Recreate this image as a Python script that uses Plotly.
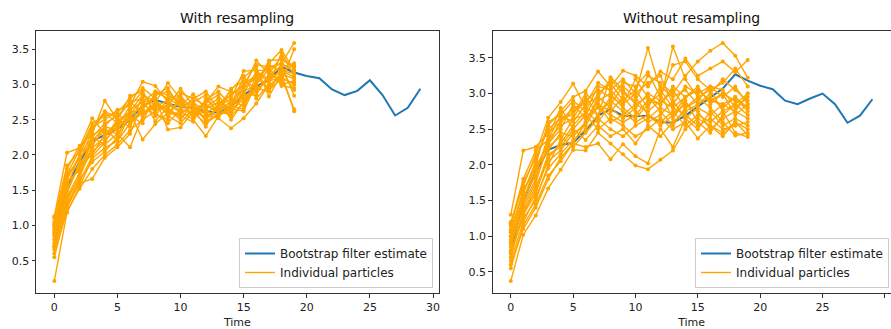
import plotly.graph_objects as go

# ---------------- data ----------------
time_est = list(range(30))
time_part = list(range(20))

estimate_with = [0.80, 1.55, 1.90, 2.20, 2.28, 2.37, 2.50, 2.70, 2.78, 2.73,
                 2.68, 2.67, 2.62, 2.60, 2.68, 2.85, 2.97, 3.07, 3.25, 3.17,
                 3.12, 3.09, 2.93, 2.85, 2.91, 3.06, 2.85, 2.56, 2.67, 2.94]

estimate_without = [0.80, 1.50, 1.90, 2.21, 2.28, 2.31, 2.48, 2.69, 2.78, 2.69,
                    2.68, 2.69, 2.60, 2.59, 2.69, 2.82, 2.95, 3.07, 3.27, 3.18,
                    3.11, 3.06, 2.90, 2.85, 2.93, 3.00, 2.85, 2.59, 2.69, 2.92]

particles_with = [
    [0.21, 1.18, 1.55, 1.95, 2.10, 2.20, 2.45, 2.60, 2.70, 2.65, 2.55, 2.60, 2.45, 2.58, 2.62, 2.80, 2.95, 3.05, 3.20, 3.10],
    [0.55, 1.25, 1.60, 1.66, 1.96, 2.11, 2.30, 2.75, 2.90, 2.80, 2.70, 2.75, 2.60, 2.70, 2.85, 3.00, 3.10, 3.25, 3.30, 3.59],
    [1.13, 2.03, 2.10, 2.52, 2.30, 2.45, 2.60, 2.22, 2.44, 2.60, 2.78, 2.55, 2.70, 2.62, 2.75, 2.95, 3.34, 3.15, 3.05, 3.50],
    [1.05, 1.80, 2.13, 2.30, 2.77, 2.50, 2.84, 2.90, 2.60, 2.45, 2.65, 2.80, 2.90, 2.65, 2.55, 2.75, 3.05, 3.30, 3.49, 3.20],
    [0.95, 1.65, 2.00, 2.40, 2.50, 2.64, 2.70, 3.04, 2.98, 2.75, 2.62, 2.50, 2.27, 2.55, 2.72, 3.10, 3.25, 2.83, 3.15, 2.62],
    [0.85, 1.50, 1.85, 2.15, 2.35, 2.30, 2.11, 2.55, 2.75, 3.02, 2.80, 2.68, 2.58, 2.52, 2.38, 2.52, 2.73, 3.00, 3.10, 2.65],
    [0.70, 1.40, 1.75, 2.05, 2.20, 2.40, 2.55, 2.70, 2.80, 2.36, 2.39, 2.62, 2.75, 2.97, 2.90, 2.85, 2.90, 3.10, 3.28, 2.84],
    [0.75, 1.35, 1.70, 2.25, 2.45, 2.55, 2.75, 2.80, 2.65, 2.70, 2.94, 2.70, 2.50, 2.68, 2.80, 3.19, 3.20, 3.20, 3.00, 3.05],
    [0.90, 1.70, 1.95, 2.20, 2.40, 2.35, 2.60, 2.65, 2.85, 2.90, 2.70, 2.86, 2.65, 2.75, 2.65, 2.90, 3.00, 3.34, 3.35, 3.25],
    [1.00, 1.60, 1.80, 2.10, 2.25, 2.50, 2.40, 2.85, 2.70, 2.60, 2.55, 2.47, 2.80, 2.60, 2.94, 3.05, 2.95, 2.90, 3.20, 3.15],
    [0.65, 1.30, 1.65, 1.90, 2.05, 2.25, 2.65, 2.75, 2.55, 2.80, 2.85, 2.60, 2.55, 2.65, 2.70, 2.65, 3.15, 3.05, 3.10, 3.00],
    [0.80, 1.45, 1.90, 2.35, 2.60, 2.45, 2.50, 2.60, 2.72, 2.65, 2.50, 2.75, 2.85, 2.58, 2.60, 2.85, 2.85, 3.15, 3.40, 3.22],
    [1.10, 1.85, 2.05, 2.45, 2.55, 2.60, 2.80, 2.95, 2.80, 2.55, 2.45, 2.65, 2.40, 2.72, 2.85, 3.00, 3.28, 3.25, 2.98, 2.95],
    [0.60, 1.20, 1.52, 1.80, 2.00, 2.15, 2.35, 2.50, 2.62, 2.72, 2.60, 2.70, 2.68, 2.80, 2.50, 2.75, 2.92, 3.12, 3.25, 3.30],
    [0.88, 1.55, 2.00, 2.25, 2.15, 2.30, 2.55, 2.45, 2.90, 2.85, 2.75, 2.55, 2.62, 2.55, 2.68, 2.95, 3.10, 2.95, 3.15, 3.08],
    [1.02, 1.75, 1.85, 2.00, 2.30, 2.40, 2.70, 2.90, 2.58, 2.50, 2.88, 2.80, 2.70, 2.62, 2.76, 2.70, 3.00, 3.22, 3.30, 3.18],
    [0.72, 1.38, 1.68, 2.12, 2.42, 2.58, 2.45, 2.65, 2.85, 2.95, 2.65, 2.58, 2.75, 2.85, 2.58, 2.88, 3.18, 3.08, 3.20, 2.92],
    [0.92, 1.62, 1.78, 2.28, 2.38, 2.20, 2.58, 2.78, 2.48, 2.68, 2.72, 2.64, 2.52, 2.70, 2.92, 3.12, 2.80, 3.00, 3.45, 3.12],
    [0.68, 1.28, 1.62, 1.98, 2.18, 2.48, 2.62, 2.85, 2.76, 2.62, 2.58, 2.72, 2.48, 2.56, 2.66, 2.62, 3.02, 3.28, 3.18, 3.28],
    [0.98, 1.72, 2.08, 2.38, 2.62, 2.52, 2.76, 2.58, 2.68, 2.78, 2.82, 2.52, 2.78, 2.90, 2.70, 3.02, 3.12, 2.92, 3.08, 3.02],
]

particles_without = [
    [0.37, 1.02, 1.29, 1.67, 1.93, 2.21, 2.20, 2.45, 2.30, 2.15, 1.99, 1.94, 2.07, 2.20, 2.50, 2.65, 2.55, 2.45, 2.60, 2.50],
    [0.55, 1.15, 1.45, 1.85, 2.05, 2.30, 2.25, 2.30, 2.08, 2.29, 2.12, 2.02, 2.50, 2.25, 2.65, 2.80, 2.70, 2.85, 2.75, 2.65],
    [1.30, 2.20, 2.25, 2.45, 2.60, 2.75, 2.90, 3.05, 2.95, 2.85, 3.00, 3.64, 3.05, 2.80, 2.95, 3.05, 2.90, 2.85, 2.95, 2.80],
    [1.20, 1.70, 2.15, 2.66, 2.88, 3.14, 2.80, 2.70, 3.23, 3.05, 2.85, 2.75, 2.90, 3.66, 3.20, 2.95, 3.05, 2.75, 2.85, 3.00],
    [1.10, 1.60, 2.05, 2.55, 2.75, 2.95, 3.04, 3.31, 3.10, 3.32, 3.25, 3.10, 3.31, 3.20, 3.49, 3.25, 3.35, 3.45, 3.30, 3.47],
    [0.95, 1.50, 1.90, 2.35, 2.70, 2.60, 2.85, 2.95, 3.20, 3.00, 2.90, 3.25, 3.15, 3.00, 3.25, 3.45, 3.60, 3.71, 3.53, 3.22],
    [0.85, 1.40, 1.75, 2.30, 2.50, 2.85, 2.65, 2.80, 2.70, 2.60, 2.70, 2.90, 2.85, 3.05, 2.80, 2.90, 3.10, 3.05, 2.80, 2.95],
    [0.75, 1.30, 1.60, 2.10, 2.30, 2.55, 2.75, 2.60, 2.85, 3.10, 2.95, 2.70, 2.60, 2.75, 2.55, 2.70, 2.60, 2.75, 2.45, 2.39],
    [1.05, 1.65, 1.95, 2.20, 2.45, 2.40, 2.60, 2.90, 3.00, 2.80, 2.65, 2.85, 3.00, 2.65, 2.90, 2.60, 2.45, 2.70, 2.85, 2.70],
    [0.65, 1.20, 1.55, 1.95, 2.15, 2.35, 2.50, 2.70, 2.95, 3.15, 3.10, 3.30, 2.95, 3.40, 3.45, 3.20, 3.05, 3.15, 3.35, 3.10],
    [0.90, 1.45, 1.80, 2.25, 2.40, 2.25, 2.45, 2.65, 2.50, 2.40, 2.55, 2.65, 2.80, 2.70, 2.95, 3.05, 2.90, 3.00, 2.70, 2.85],
    [1.15, 1.75, 2.10, 2.50, 2.65, 2.70, 3.00, 2.85, 2.75, 2.95, 2.75, 2.60, 2.70, 2.90, 2.65, 2.50, 2.75, 2.55, 2.65, 2.55],
    [0.70, 1.35, 1.70, 2.05, 2.20, 2.45, 2.55, 2.85, 2.60, 2.70, 2.85, 2.95, 2.75, 2.55, 2.80, 2.95, 2.80, 2.60, 2.41, 2.45],
    [0.80, 1.25, 1.50, 2.00, 2.35, 2.65, 2.70, 3.00, 3.15, 2.90, 3.05, 2.80, 3.10, 2.95, 3.05, 2.85, 3.00, 3.20, 3.05, 2.90],
    [1.00, 1.55, 1.85, 2.40, 2.80, 2.50, 2.35, 2.55, 2.40, 2.50, 2.30, 2.55, 2.40, 2.60, 2.75, 2.85, 2.95, 2.80, 2.95, 2.75],
    [0.60, 1.10, 1.40, 1.80, 2.10, 2.30, 2.60, 2.95, 2.80, 2.65, 2.80, 3.00, 2.90, 2.80, 2.70, 2.55, 2.65, 2.50, 2.55, 2.60],
    [0.92, 1.50, 2.00, 2.60, 2.70, 2.90, 2.75, 3.10, 3.05, 3.20, 3.00, 3.15, 3.25, 2.85, 3.10, 3.00, 3.10, 2.95, 3.10, 2.85],
    [1.18, 1.80, 2.20, 2.35, 2.55, 2.65, 2.95, 2.70, 2.90, 2.75, 2.60, 2.70, 2.55, 2.70, 2.85, 2.75, 2.50, 2.65, 2.75, 3.00],
    [0.78, 1.32, 1.65, 2.15, 2.25, 2.50, 2.70, 2.50, 2.65, 2.55, 2.40, 2.50, 2.65, 2.50, 2.60, 2.37, 2.55, 2.40, 2.60, 2.42],
    [1.08, 1.62, 1.98, 2.28, 2.62, 2.80, 2.85, 3.15, 3.05, 2.85, 3.20, 2.95, 2.85, 3.10, 2.95, 3.10, 2.85, 3.00, 2.90, 2.80],
]

titles = ["With resampling", "Without resampling"]
xticks = [0, 5, 10, 15, 20, 25, 30]
yticks = [0.5, 1.0, 1.5, 2.0, 2.5, 3.0, 3.5]

BLUE = "#1f77b4"
ORANGE = "#FFA500"
FONT = "DejaVu Sans"

fig = go.Figure()

panels = [
    (estimate_with, particles_with, "x", "y", "legend"),
    (estimate_without, particles_without, "x2", "y2", "legend2"),
]

for est, parts, xa, ya, lg in panels:
    fig.add_trace(go.Scatter(x=time_est, y=est, mode="lines",
                             line=dict(color=BLUE, width=2),
                             name="Bootstrap filter estimate",
                             xaxis=xa, yaxis=ya, legend=lg, showlegend=True,
                             legendrank=1))
    for i, p in enumerate(parts):
        fig.add_trace(go.Scatter(x=time_part, y=p, mode="lines",
                                 line=dict(color=ORANGE, width=1.4),
                                 name="Individual particles",
                                 xaxis=xa, yaxis=ya, legend=lg,
                                 showlegend=(i == 0), legendrank=2,
                                 hoverinfo="skip"))
        fig.add_trace(go.Scatter(x=time_part, y=p, mode="markers",
                                 marker=dict(color=ORANGE, size=4),
                                 xaxis=xa, yaxis=ya, showlegend=False,
                                 hoverinfo="skip"))


def yrange(est, parts):
    vals = list(est) + [v for p in parts for v in p]
    lo, hi = min(vals), max(vals)
    m = 0.05 * (hi - lo)
    return [lo - m, hi + m]


axis_common = dict(showline=True, mirror=True, linecolor="#333333", linewidth=1,
                   ticks="outside", ticklen=3.5, tickwidth=1, tickcolor="#333333",
                   showgrid=False, zeroline=False,
                   tickfont=dict(family=FONT, size=11, color="#222222"))

Y0, Y1 = (329 - 293) / 329, (329 - 31) / 329
xr = [-1.45, 30.45]

legend_common = dict(yanchor="bottom", xanchor="right",
                     bgcolor="rgba(255,255,255,0.8)", bordercolor="#cccccc", borderwidth=1,
                     font=dict(family=FONT, size=12, color="#222222"),
                     tracegroupgap=0, itemwidth=30)

fig.update_layout(
    width=891, height=329,
    margin=dict(l=0, r=0, t=0, b=0),
    paper_bgcolor="white", plot_bgcolor="white",
    font=dict(family=FONT, size=11, color="#222222"),
    xaxis=dict(domain=[36 / 891, 438.7 / 891], range=xr, tickvals=xticks,
               anchor="y",
               title=dict(text="Time", standoff=6, font=dict(size=11)),
               **axis_common),
    yaxis=dict(domain=[Y0, Y1], range=yrange(estimate_with, particles_with),
               tickvals=yticks, tickformat=".1f", anchor="x", **axis_common),
    xaxis2=dict(domain=[492.7 / 891, 890.5 / 891], range=xr, tickvals=xticks,
                anchor="y2",
                title=dict(text="Time", standoff=6, font=dict(size=11)),
                **axis_common),
    yaxis2=dict(domain=[Y0, Y1], range=yrange(estimate_without, particles_without),
                tickvals=yticks, tickformat=".1f", anchor="x2", **axis_common),
    legend=dict(x=433 / 891, y=(329 - 288) / 329, **legend_common),
    legend2=dict(x=889 / 891, y=(329 - 288) / 329, **legend_common),
    annotations=[
        dict(text=titles[0], x=(36 + 438.7) / 2 / 891, y=(329 - 18) / 329,
             xref="paper", yref="paper", showarrow=False,
             font=dict(family=FONT, size=14, color="#111111"),
             xanchor="center", yanchor="middle"),
        dict(text=titles[1], x=(492.7 + 891) / 2 / 891, y=(329 - 18) / 329,
             xref="paper", yref="paper", showarrow=False,
             font=dict(family=FONT, size=14, color="#111111"),
             xanchor="center", yanchor="middle"),
    ],
)

fig.write_html("out.html")
